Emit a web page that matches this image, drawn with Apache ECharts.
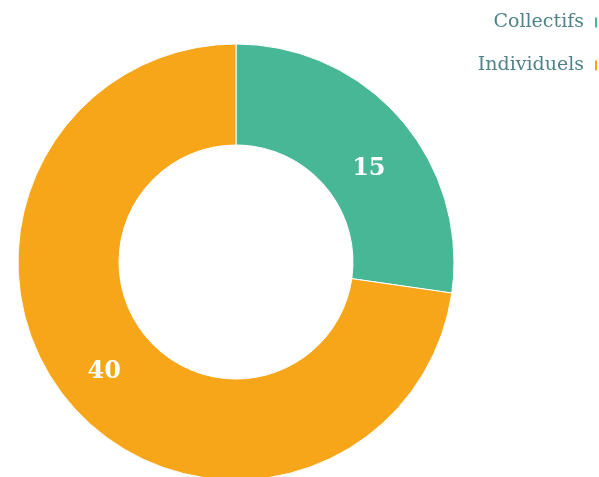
<!DOCTYPE html>
<html><head><meta charset="utf-8">
<script src="https://cdn.jsdelivr.net/npm/echarts@6/dist/echarts.min.js"></script>
<style>html,body{margin:0;padding:0;background:#fff}#c{width:599px;height:477px}</style>
</head><body><div id="c"></div>
<script>
const categories = ['Collectifs', 'Individuels'];
const values = [15, 40];
const colors = ['#48b796', '#f6a618'];
const chart = echarts.init(document.getElementById('c'));
chart.setOption({
  animation: false,
  color: colors,
  legend: {
    orient: 'vertical', right: -5, top: 8, align: 'right',
    itemWidth: 4, itemHeight: 12, itemGap: 24,
    icon: 'rect',
    textStyle: { fontFamily: 'DejaVu Serif', fontSize: 19, color: '#4f8389', padding: [0, 5, 0, 0] },
    data: categories
  },
  series: [{
    type: 'pie',
    center: [236, 262],
    radius: [117, 218],
    startAngle: 90,
    clockwise: true,
    label: {
      show: true, position: 'inside', formatter: '{c}',
      fontFamily: 'DejaVu Serif', fontWeight: 'bold', fontSize: 24, color: '#fff'
    },
    labelLine: { show: false },
    itemStyle: { borderColor: '#fff', borderWidth: 1 },
    data: categories.map((n, i) => ({ name: n, value: values[i],
      label: { offset: i === 0 ? [4, 18] : [-3, -2] } }))
  }]
});
</script></body></html>
